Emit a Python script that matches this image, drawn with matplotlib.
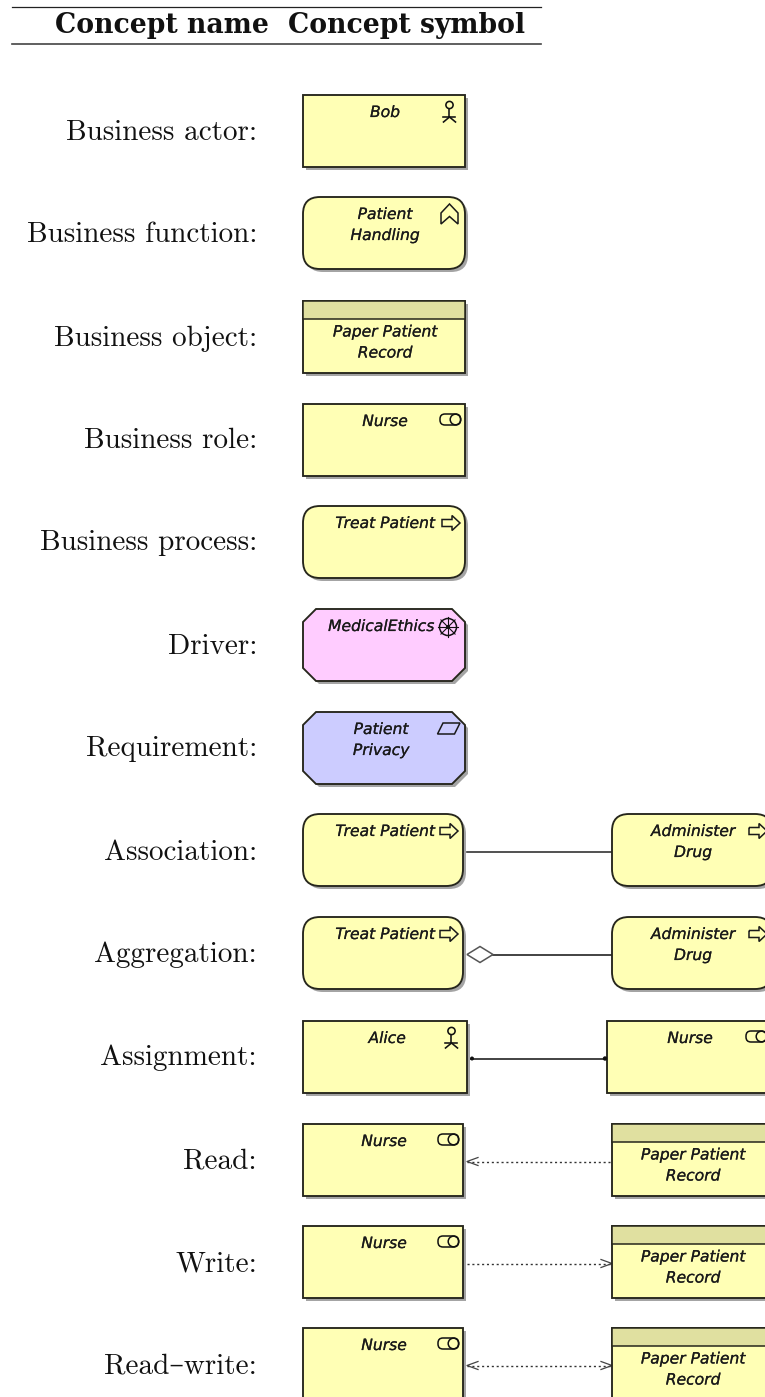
import matplotlib
matplotlib.use("Agg")
import matplotlib.pyplot as plt
from matplotlib.patches import Polygon, FancyBboxPatch, Rectangle, Circle
import matplotlib.patheffects as pe
import numpy as np

# ---------- content ----------
headers = ["Concept name", "Concept symbol"]
row_labels = ["Business actor:", "Business function:", "Business object:", "Business role:",
              "Business process:", "Driver:", "Requirement:", "Association:", "Aggregation:",
              "Assignment:", "Read:", "Write:", "Read\u2013write:"]
left_names = ["Bob", "Patient\nHandling", "Paper Patient\nRecord", "Nurse", "Treat Patient",
              "MedicalEthics", "Patient\nPrivacy", "Treat Patient", "Treat Patient", "Alice",
              "Nurse", "Nurse", "Nurse"]
left_kinds = ["actor", "function", "object", "role", "process", "driver", "requirement",
              "process", "process", "actor", "role", "role", "role"]
right_names = ["Administer\nDrug", "Administer\nDrug", "Nurse",
               "Paper Patient\nRecord", "Paper Patient\nRecord", "Paper Patient\nRecord"]
right_kinds = ["process", "process", "role", "object", "object", "object"]
relations = ["association", "aggregation", "assignment", "read", "write", "readwrite"]

# ---------- layout (pixels) ----------
W, H = 765, 1397
row_tops = [95, 197, 301, 404, 506, 609, 712, 814, 917, 1021, 1124, 1226, 1328]
label_base = [139.5, 241.5, 345.5, 447.5, 550.5, 653.5, 756.5, 859.5, 962.5, 1065, 1168.5, 1271.5, 1373.5]
left_x = [303] * 13
left_w = [162, 162, 162, 162, 162, 162, 162, 160, 160, 164, 160, 160, 160]
right_x = [612, 612, 607, 612, 612, 612]
right_w = [160, 160, 164, 160, 160, 160]
BOX_H = 72
text_cx = [385, 385, 385, 385, 385, 381, 381, 385, 385, 387, 384, 384, 384]
right_cx = [693, 693, 690, 693, 693, 693]
FILL = {"driver": "#FFCCFF", "requirement": "#CCCCFF"}
YEL = "#FFFFB5"
EDGE = "#26261c"

fig = plt.figure(figsize=(W / 100, H / 100), dpi=100)
ax = fig.add_axes([0, 0, 1, 1])
ax.set_xlim(0, W)
ax.set_ylim(H, 0)
ax.axis("off")

TEX = ["cmr10", "DejaVu Serif"]
BOXFONT = dict(family="DejaVu Sans", style="italic", fontsize=11.2, color="#1a1a1a",
               path_effects=[pe.withStroke(linewidth=0.15, foreground="#1a1a1a")])


def poly(pts, **kw):
    kw.setdefault("closed", True)
    kw.setdefault("fill", False)
    kw.setdefault("ec", "#1a1a1a")
    kw.setdefault("lw", 1.1)
    ax.add_patch(Polygon(pts, **kw))


def body(shape, x, y, w, h, fc, z):
    if shape == "round":
        R = 17
        make = lambda dx, dy, fc_, ec, lw, zz: FancyBboxPatch(
            (x + R + dx, y + R + dy), w - 2 * R, h - 2 * R,
            boxstyle=f"round,pad={R},rounding_size={R}", fc=fc_, ec=ec, lw=lw, zorder=zz)
    elif shape == "octagon":
        c = 13
        pts = [(x + c, y), (x + w - c, y), (x + w, y + c), (x + w, y + h - c), (x + w - c, y + h),
               (x + c, y + h), (x, y + h - c), (x, y + c)]
        make = lambda dx, dy, fc_, ec, lw, zz: Polygon(
            [(a + dx, b + dy) for a, b in pts], closed=True, fc=fc_, ec=ec, lw=lw, zorder=zz)
    else:
        make = lambda dx, dy, fc_, ec, lw, zz: Rectangle(
            (x + dx, y + dy), w, h, fc=fc_, ec=ec, lw=lw, zorder=zz)
    ax.add_patch(make(3, 3, "#a4a4a4", "none", 0, z))
    ax.add_patch(make(0, 0, fc, EDGE, 1.35, z + 1))


def icon(kind, x, y, w):
    """x, y: box corner, w: box width; icons anchored to the right edge."""
    r = x + w
    Z = 5
    if kind == "actor":
        cx = r - 15.5
        ax.add_patch(Circle((cx, y + 10), 3.6, fill=False, ec="#111", lw=1.15, zorder=Z))
        ax.plot([cx, cx], [y + 13.5, y + 22], color="#111", lw=1.15, zorder=Z)
        ax.plot([cx - 6, cx + 6], [y + 22, y + 22], color="#111", lw=1.15, zorder=Z)
        ax.plot([cx - 6, cx, cx + 6], [y + 27, y + 22, y + 27], color="#111", lw=1.15, zorder=Z)
    elif kind == "function":
        poly([(r - 24, y + 16), (r - 15.5, y + 7), (r - 7, y + 16), (r - 7, y + 27),
              (r - 15.5, y + 19.5), (r - 24, y + 27)], zorder=Z)
    elif kind == "role":
        cy = y + 15.5
        ax.add_patch(FancyBboxPatch((r - 20, cy - 0.5), 10.5, 1,
                                    boxstyle="round,pad=5,rounding_size=5",
                                    fill=False, ec="#111", lw=1.1, zorder=Z))
        ax.add_patch(Circle((r - 9.5, cy), 5.3, fill=False, ec="#111", lw=1.1, zorder=Z))
    elif kind == "process":
        cy = y + 17
        l = r - 23
        poly([(l, cy - 3.5), (l + 10, cy - 3.5), (l + 10, cy - 7.5), (l + 18, cy),
              (l + 10, cy + 7.5), (l + 10, cy + 3.5), (l, cy + 3.5)], zorder=Z)
    elif kind == "driver":
        cx, cy = r - 17, y + 18
        ax.add_patch(Circle((cx, cy), 8.5, fill=False, ec="#111", lw=1.1, zorder=Z))
        for a in np.deg2rad([0, 45, 90, 135]):
            ax.plot([cx - 10 * np.cos(a), cx + 10 * np.cos(a)],
                    [cy - 10 * np.sin(a), cy + 10 * np.sin(a)], color="#111", lw=0.8, zorder=Z)
        ax.add_patch(Circle((cx, cy), 2, fc="#111", ec="none", zorder=Z))
    elif kind == "requirement":
        poly([(r - 27.5, y + 22), (r - 22, y + 11), (r - 5, y + 11), (r - 10.5, y + 22)], zorder=Z)


def box(kind, name, x, y, w, cx):
    shape = {"function": "round", "process": "round", "driver": "octagon",
             "requirement": "octagon"}.get(kind, "rect")
    body(shape, x, y, w, BOX_H, FILL.get(kind, YEL), 2)
    if kind == "object":
        ax.add_patch(Rectangle((x, y), w, 18, fc="#E0E0A0", ec=EDGE, lw=1.1, zorder=4))
    icon(kind, x, y, w)
    lines = name.split("\n")
    start = y + (31 if kind == "object" else 17.5)
    for i, line in enumerate(lines):
        ax.text(cx, start + i * 21, line, ha="center", va="center", zorder=6, **BOXFONT)


# header
ax.plot([12, 541], [6.8, 6.8], color="#222", lw=0.9)
ax.plot([12, 541], [43.6, 43.6], color="#444", lw=1.2)
ax.text(269, 33, headers[0], ha="right", va="baseline", family="DejaVu Serif", weight="bold",
        fontsize=19.2, color="#111")
ax.text(525, 33, headers[1], ha="right", va="baseline", family="DejaVu Serif", weight="bold",
        fontsize=19.2, color="#111")

# rows
for i, lab in enumerate(row_labels):
    ax.text(257, label_base[i], lab, ha="right", va="baseline", family=TEX, fontsize=21.0, color="#111")
    box(left_kinds[i], left_names[i], left_x[i], row_tops[i], left_w[i], text_cx[i])

# right-hand boxes and relations
for j, rel in enumerate(relations):
    i = 7 + j
    y = row_tops[i]
    box(right_kinds[j], right_names[j], right_x[j], y, right_w[j], right_cx[j])
    x0 = left_x[i] + left_w[i]
    x1 = right_x[j]
    my = y + 37.5
    if rel == "association":
        ax.plot([x0 + 4, x1], [my, my], color="#333", lw=1.2, zorder=1)
    elif rel == "aggregation":
        ax.plot([x0 + 30, x1], [my, my], color="#222", lw=1.2, zorder=1)
        poly([(x0 + 4, my), (x0 + 17, my - 8), (x0 + 30, my), (x0 + 17, my + 8)], ec="#555", lw=1.1)
    elif rel == "assignment":
        ax.plot([x0 + 4, x1 - 2], [my, my], color="#222", lw=1.2, zorder=1)
        ax.add_patch(Circle((x0 + 5, my), 2.0, fc="#111", ec="none", zorder=3))
        ax.add_patch(Circle((x1 - 2, my), 2.2, fc="#111", ec="none", zorder=3))
    else:
        ax.plot([x0 + 4, x1 - 1], [my, my], color="#333", lw=1.0, ls=(0, (1.5, 2)), zorder=1)
        if rel in ("read", "readwrite"):
            ax.plot([x0 + 15, x0 + 4, x0 + 15], [my - 4, my, my + 4], color="#444", lw=0.9, zorder=1)
        if rel in ("write", "readwrite"):
            ax.plot([x1 - 11, x1, x1 - 11], [my - 4, my, my + 4], color="#444", lw=0.9, zorder=1)

fig.savefig("out.png", dpi=100, facecolor="white")
